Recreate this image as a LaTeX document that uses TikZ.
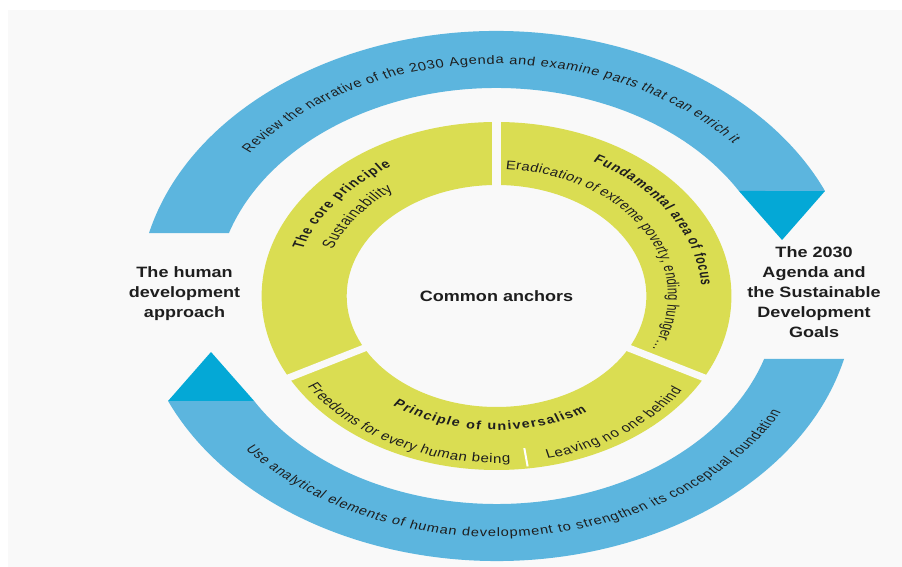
\documentclass[tikz,border=0pt]{standalone}
\usepackage{fontspec}
\setmainfont{Liberation Sans}
\newfontfamily\labelfont{Liberation Sans}[FakeStretch=0.89]
\usetikzlibrary{calc,decorations.text}

\definecolor{bandblue}{RGB}{92,181,222}
\definecolor{tipblue}{RGB}{4,168,214}
\definecolor{ringyellow}{RGB}{218,221,82}
\definecolor{panel}{RGB}{249,249,249}
\definecolor{ink}{RGB}{30,30,30}

\tikzset{
  bandfill/.style={fill=bandblue},
  tipfill/.style={fill=tipblue},
  ringgap/.style={draw=panel, line width=6.7pt},
  sidelabel/.style={font=\labelfont\bfseries\fontsize{15}{20}\selectfont, text=ink, align=center},
  arctext/.style={decorate, decoration={text along path, text align={fit to path}, text color=ink, text={#1}}},
}

\begin{document}
\begin{tikzpicture}[x=1pt,y=1pt]
\useasboundingbox (0,0) rectangle (902,567);
\fill[panel] (8,0) rectangle (902,557);

% the whole circular design, widened horizontally
\begin{scope}[transform canvas={xscale=1.35}]
\coordinate (C) at (367.8,271);

% upper band with its arrow tip
\coordinate (TLo) at ($(C)+(166.25:265)$);
\coordinate (TRo) at ($(C)+(23.34:265)$);
\coordinate (TRi) at ($(C)+(30.32:208)$);
\coordinate (TTip) at ($(C)+(211.5,56)$);
\fill[bandfill] (TLo) arc[start angle=166.25, end angle=23.34, radius=265]
  -- (TRi) arc[start angle=30.32, end angle=162.37, radius=208] -- cycle;
\fill[tipfill] (TRo) -- (TRi) -- (TTip) -- cycle;

% lower band with its arrow tip
\coordinate (BRo) at ($(C)+(-13.75:265)$);
\coordinate (BLo) at ($(C)+(-156.66:265)$);
\coordinate (BLi) at ($(C)+(-149.68:208)$);
\coordinate (BTip) at ($(C)+(-211.5,-56)$);
\fill[bandfill] (BRo) arc[start angle=-13.75, end angle=-156.66, radius=265]
  -- (BLi) arc[start angle=-149.68, end angle=-17.63, radius=208] -- cycle;
\fill[tipfill] (BLo) -- (BLi) -- (BTip) -- cycle;

% yellow ring split in three
\fill[ringyellow, even odd rule] (C) circle[radius=174] (C) circle[radius=111];
\draw[ringgap] ($(C)+(90:105)$) -- ($(C)+(90:180)$);
\draw[ringgap] ($(C)+(208:105)$) -- ($(C)+(208:180)$);
\draw[ringgap] ($(C)+(332:105)$) -- ($(C)+(332:180)$);
\draw[white, line width=1.5pt] ($(C)+(277.7:153.5)$) -- ($(C)+(277.7:172)$);

% labels
\node[sidelabel] (anchors) at (C) {Common anchors};
\node[sidelabel] (hda) at (136.7,272.9) {The human\\development\\approach};
\node[sidelabel] (sdg) at (603,274.5) {The 2030\\Agenda and\\the Sustainable\\Development\\Goals};

% texts along the bands
\path[arctext={|\labelfont\fontsize{12.2}{14}\selectfont|Review the narrative of the 2030 Agenda and examine parts that can enrich it}]
  ($(C)+(142:232)$) arc[start angle=142, end angle=41, radius=232];
\path[arctext={|\labelfont\fontsize{12.2}{14}\selectfont|Use analytical elements of human development to strengthen its conceptual foundation}]
  ($(C)+(219.5:241)$) arc[start angle=219.5, end angle=331, radius=241];

% texts along the ring
\path[arctext={|\labelfont\bfseries\fontsize{12}{14}\selectfont|The core principle}]
  ($(C)+(162:151)$) arc[start angle=162, end angle=121, radius=151];
\path[arctext={|\labelfont\fontsize{13.2}{15}\selectfont|Sustainability}]
  ($(C)+(159:130)$) arc[start angle=159, end angle=126, radius=130];
\path[arctext={|\labelfont\bfseries\fontsize{12}{14}\selectfont|Fundamental area of focus}]
  ($(C)+(62:152)$) arc[start angle=62, end angle=4, radius=152];
\path[arctext={|\labelfont\fontsize{12.4}{14}\selectfont|Eradication of extreme poverty, ending hunger…}]
  ($(C)+(87:127)$) arc[start angle=87, end angle=-25, radius=127];
\path[arctext={|\labelfont\bfseries\fontsize{12}{14}\selectfont|Principle of universalism}]
  ($(C)+(235:134)$) arc[start angle=235, end angle=300, radius=134];
\path[arctext={|\labelfont\fontsize{12.6}{14}\selectfont|Freedoms for every human being}]
  ($(C)+(213:167)$) arc[start angle=213, end angle=273.5, radius=167];
\path[arctext={|\labelfont\fontsize{12.6}{14}\selectfont|Leaving no one behind}]
  ($(C)+(283:167)$) arc[start angle=283, end angle=325.5, radius=167];
\end{scope}
\end{tikzpicture}
\end{document}
